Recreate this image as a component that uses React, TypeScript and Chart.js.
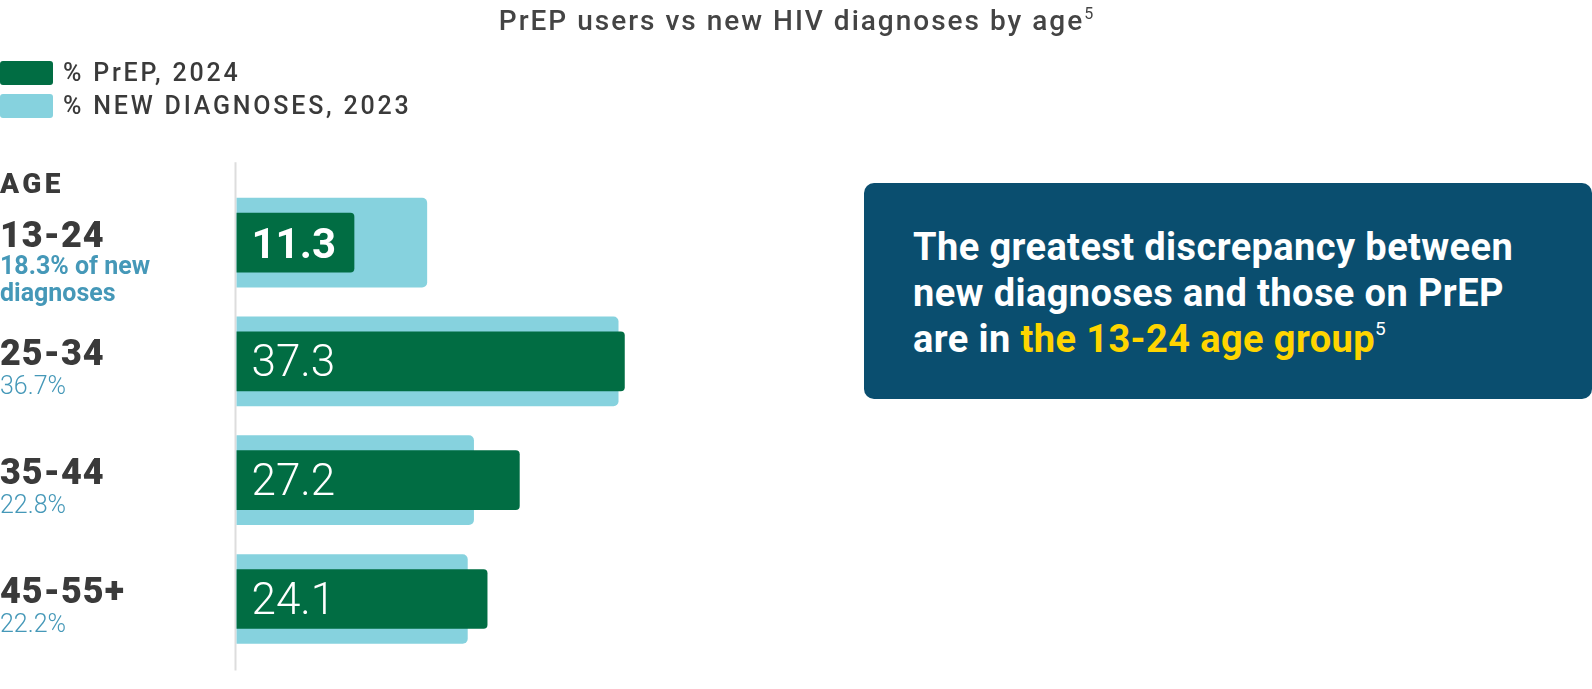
import React, { useEffect, useRef } from 'react';
import { Chart, ChartConfiguration, registerables } from 'chart.js';

Chart.register(...registerables);

const ageGroups = ['13-24', '25-34', '35-44', '45-55+'];
const prepShare2024 = [11.3, 37.3, 27.2, 24.1];
const newDiagnosesShare2023 = [18.3, 36.7, 22.8, 22.2];
const highlightIndex = 0;

const GREEN = '#016d43';
const LIGHT_BLUE = '#86d2de';
const NOTE_BLUE = '#4598b8';
const DARK_TEXT = '#3a3a3a';

const FONT = 'Roboto, "Noto Sans", sans-serif';

// draws the axis line, the age labels on the left and the values inside the green bars
const ageLabelsPlugin = {
  id: 'ageLabels',
  beforeDatasetsDraw(chart: Chart) {
    const { ctx, chartArea, scales } = chart;
    const x0 = scales.x.getPixelForValue(0);
    ctx.save();
    ctx.strokeStyle = '#dddddd';
    ctx.lineWidth = 2;
    ctx.beginPath();
    ctx.moveTo(x0 - 1, chartArea.top - 21);
    ctx.lineTo(x0 - 1, chartArea.bottom + 12);
    ctx.stroke();
    ctx.restore();
  },
  afterDatasetsDraw(chart: Chart) {
    const { ctx, scales } = chart;
    const x0 = scales.x.getPixelForValue(0);
    ctx.save();
    ctx.textAlign = 'left';
    ctx.textBaseline = 'alphabetic';

    ctx.fillStyle = DARK_TEXT;
    ctx.font = `900 28px ${FONT}`;
    (ctx as any).letterSpacing = '3.5px';
    ctx.fillText('AGE', 0, scales.y.getPixelForValue(0) - 50);

    ageGroups.forEach((group, i) => {
      const y = scales.y.getPixelForValue(i);
      ctx.fillStyle = DARK_TEXT;
      ctx.font = `900 36px ${FONT}`;
      (ctx as any).letterSpacing = '1px';
      ctx.fillText(group, 0, y + 4);

      (ctx as any).letterSpacing = '0px';
      ctx.fillStyle = NOTE_BLUE;
      if (i === highlightIndex) {
        ctx.font = `bold 25px ${FONT}`;
        ctx.fillText(`${newDiagnosesShare2023[i]}% of new`, 0, y + 31.5);
        ctx.fillText('diagnoses', 0, y + 58);
      } else {
        ctx.font = `300 25px ${FONT}`;
        ctx.fillText(`${newDiagnosesShare2023[i]}%`, 0, y + 32.5);
      }

      ctx.fillStyle = '#ffffff';
      ctx.font = i === highlightIndex ? `bold 42px ${FONT}` : `300 44px ${FONT}`;
      ctx.fillText(String(prepShare2024[i]), x0 + 15, y + 15);
    });
    ctx.restore();
  },
};

function PrepChart() {
  const canvasRef = useRef<HTMLCanvasElement | null>(null);
  const chartRef = useRef<Chart<'bar'> | null>(null);

  useEffect(() => {
    if (!canvasRef.current) return;
    const config: ChartConfiguration<'bar'> = {
      type: 'bar',
      data: {
        labels: ageGroups,
        datasets: [
          {
            label: '% PrEP, 2024',
            data: prepShare2024,
            backgroundColor: GREEN,
            barThickness: 59,
            borderRadius: 4,
            borderSkipped: 'start',
            grouped: false,
            order: 0,
          },
          {
            label: '% NEW DIAGNOSES, 2023',
            data: newDiagnosesShare2023,
            backgroundColor: LIGHT_BLUE,
            barThickness: 89,
            borderRadius: 5,
            borderSkipped: 'start',
            grouped: false,
            order: 1,
          },
        ],
      },
      options: {
        indexAxis: 'y',
        animation: false,
        responsive: true,
        maintainAspectRatio: false,
        layout: { padding: { left: 236.5, right: 83.5, top: 183.2, bottom: 30.6 } },
        plugins: { legend: { display: false }, tooltip: { enabled: false } },
        scales: {
          x: { display: false, min: 0, max: 50 },
          y: { display: false },
        },
      },
      plugins: [ageLabelsPlugin],
    };
    chartRef.current = new Chart(canvasRef.current, config);
    return () => {
      chartRef.current?.destroy();
    };
  }, []);

  return (
    <div style={{ position: 'absolute', left: 0, top: 0, width: 840, height: 689 }}>
      <canvas ref={canvasRef} />
    </div>
  );
}

export default function App() {
  return (
    <div
      style={{
        position: 'fixed',
        left: 0,
        top: 0,
        width: 1592,
        height: 689,
        background: '#ffffff',
        fontFamily: FONT,
        color: DARK_TEXT,
        overflow: 'hidden',
      }}
    >
      <PrepChart />

      <div
        style={{
          position: 'absolute',
          left: 0,
          width: 1592,
          top: 0,
          textAlign: 'center',
          fontSize: 28,
          lineHeight: '41px',
          fontWeight: 500,
          letterSpacing: 2,
          color: '#444444',
          whiteSpace: 'nowrap',
        }}
      >
        PrEP users vs new HIV diagnoses by age
        <sup style={{ fontSize: 16, fontWeight: 400, letterSpacing: 0, verticalAlign: 'top', lineHeight: '28px' }}>5</sup>
      </div>

      {[
        { label: '% PrEP, 2024', color: GREEN, top: 61 },
        { label: '% NEW DIAGNOSES, 2023', color: LIGHT_BLUE, top: 93.5 },
      ].map((item) => (
        <div key={item.label}>
          <div
            style={{
              position: 'absolute',
              left: 0,
              top: item.top,
              width: 53,
              height: 24,
              borderRadius: 3,
              background: item.color,
            }}
          />
          <div
            style={{
              position: 'absolute',
              left: 63,
              top: item.top - 4,
              fontSize: 25,
              lineHeight: '32px',
              fontWeight: 500,
              letterSpacing: 2.8,
              whiteSpace: 'nowrap',
            }}
          >
            {item.label}
          </div>
        </div>
      ))}

      <div
        style={{
          position: 'absolute',
          left: 864,
          top: 183,
          width: 728,
          height: 216,
          borderRadius: 10,
          background: '#0a4e6f',
          color: '#ffffff',
          boxSizing: 'border-box',
          paddingLeft: 49,
          paddingTop: 41,
          fontSize: 38,
          lineHeight: '46px',
          fontWeight: 700,
          letterSpacing: 0.4,
          whiteSpace: 'nowrap',
        }}
      >
        <div>The greatest discrepancy between</div>
        <div>new diagnoses and those on PrEP</div>
        <div>
          are in <span style={{ color: '#ffd500' }}>the 13-24 age group</span>
          <sup style={{ fontSize: 19, fontWeight: 400, letterSpacing: 0, verticalAlign: 'top', lineHeight: '26px' }}>5</sup>
        </div>
      </div>
    </div>
  );
}
